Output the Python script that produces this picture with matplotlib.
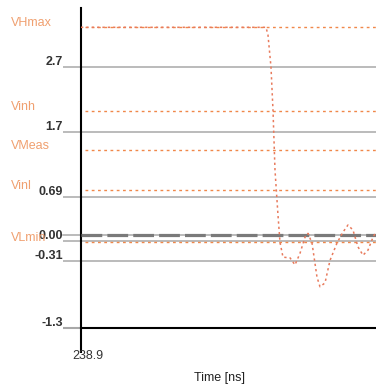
import matplotlib.pyplot as plt
from matplotlib.transforms import ScaledTranslation

# waveform (time in ns, voltage in V)
time_ns = [238.900, 239.085, 239.087, 239.090, 239.092, 239.094, 239.097,
           239.099, 239.102, 239.109, 239.114, 239.119, 239.124, 239.127,
           239.131, 239.136, 239.139, 239.144, 239.149, 239.156, 239.162,
           239.167, 239.172, 239.177, 239.182, 239.187, 239.192, 239.195]
volts = [3.32, 3.32, 3.20, 2.70, 2.03, 1.10, 0.40,
         -0.02, -0.25, -0.26, -0.37, -0.19, 0.06, 0.12,
         -0.03, -0.56, -0.71, -0.65, -0.30, -0.03, 0.14,
         0.25, 0.17, -0.09, -0.22, -0.14, 0.06, 0.14]

# reference levels
level_names = ['VHmax', 'Vinh', 'VMeas', 'Vinl', 'VLmin']
level_values = [3.32, 2.02, 1.41, 0.79, -0.02]
marker_level = 0.09

ytick_values = [2.7, 1.7, 0.69, 0.0, -0.31, -1.35]
ytick_labels = ['2.7', '1.7', '0.69', '0.00', '-0.31', '-1.3']
xtick_values = [238.9]
xtick_labels = ['238.9']
x_range = (238.9, 239.195)
y_range = (-1.35, 3.62)

plt.rcParams['font.family'] = ['Liberation Sans', 'DejaVu Sans']

fig = plt.figure(figsize=(3.76, 3.85), dpi=100)
ax = fig.add_axes([81 / 376, 57 / 385, 295 / 376, 320 / 385])
ax.set_xlim(*x_range)
ax.set_ylim(*y_range)

orange = '#f0884a'
gray = '#a8a8a8'

# gridlines / ticks
ax.set_yticks(ytick_values)
ax.set_yticklabels(ytick_labels, fontsize=9, fontweight='bold', color='#333333')
ax.grid(axis='y', color=gray, linewidth=1.1)
ax.tick_params(axis='y', length=13, width=1.1, color=gray, pad=0)
for lbl in ax.get_yticklabels():
    lbl.set_verticalalignment('baseline')
    lbl.set_transform(lbl.get_transform() + ScaledTranslation(0, 1.5 / 72, fig.dpi_scale_trans))
ax.yaxis.get_major_ticks()[-1].tick1line.set_color('black')
ax.yaxis.get_major_ticks()[-1].tick1line.set_markeredgewidth(1.5)

ax.set_xticks(xtick_values)
ax.set_xticklabels(xtick_labels, fontsize=9, color='#333333', ha='left')
ax.tick_params(axis='x', length=18, width=1.5, color='black', pad=-2)
for lbl in ax.get_xticklabels():
    lbl.set_transform(lbl.get_transform() + ScaledTranslation(-6 / 72, 0, fig.dpi_scale_trans))

for side in ['top', 'right']:
    ax.spines[side].set_visible(False)
for side in ['left', 'bottom']:
    ax.spines[side].set_linewidth(1.5)
    ax.spines[side].set_color('black')

# marker line (thin solid + thick dashed)
ax.axhline(marker_level, xmin=-0.061, xmax=1, color=gray, linewidth=1.1, clip_on=False, zorder=2)
ax.axhline(marker_level, color='#7a7a7a', linewidth=2.3, dashes=(6.5, 1.6), zorder=3)

# reference levels
for name, val in zip(level_names, level_values):
    ax.axhline(val, xmin=0.015, xmax=1, color=orange, linewidth=1.0,
               dashes=(2, 2.5), zorder=4)
    ax.annotate(name, xy=(0.029, val), xycoords=('figure fraction', 'data'),
                xytext=(0, 1), textcoords='offset points', va='baseline',
                ha='left', fontsize=9, color='#f0a070', annotation_clip=False)

# waveform
ax.plot(time_ns, volts, color='#e87a5c', linewidth=1.1, linestyle=(0, (1.5, 2)),
        zorder=5)

ax.set_xlabel('Time [ns]', fontsize=9, color='#222222')
ax.xaxis.set_label_coords((220 - 81) / 295, (328 - 378) / 320)
ax.xaxis.label.set_verticalalignment('center')

fig.savefig('out.png', dpi=100)
